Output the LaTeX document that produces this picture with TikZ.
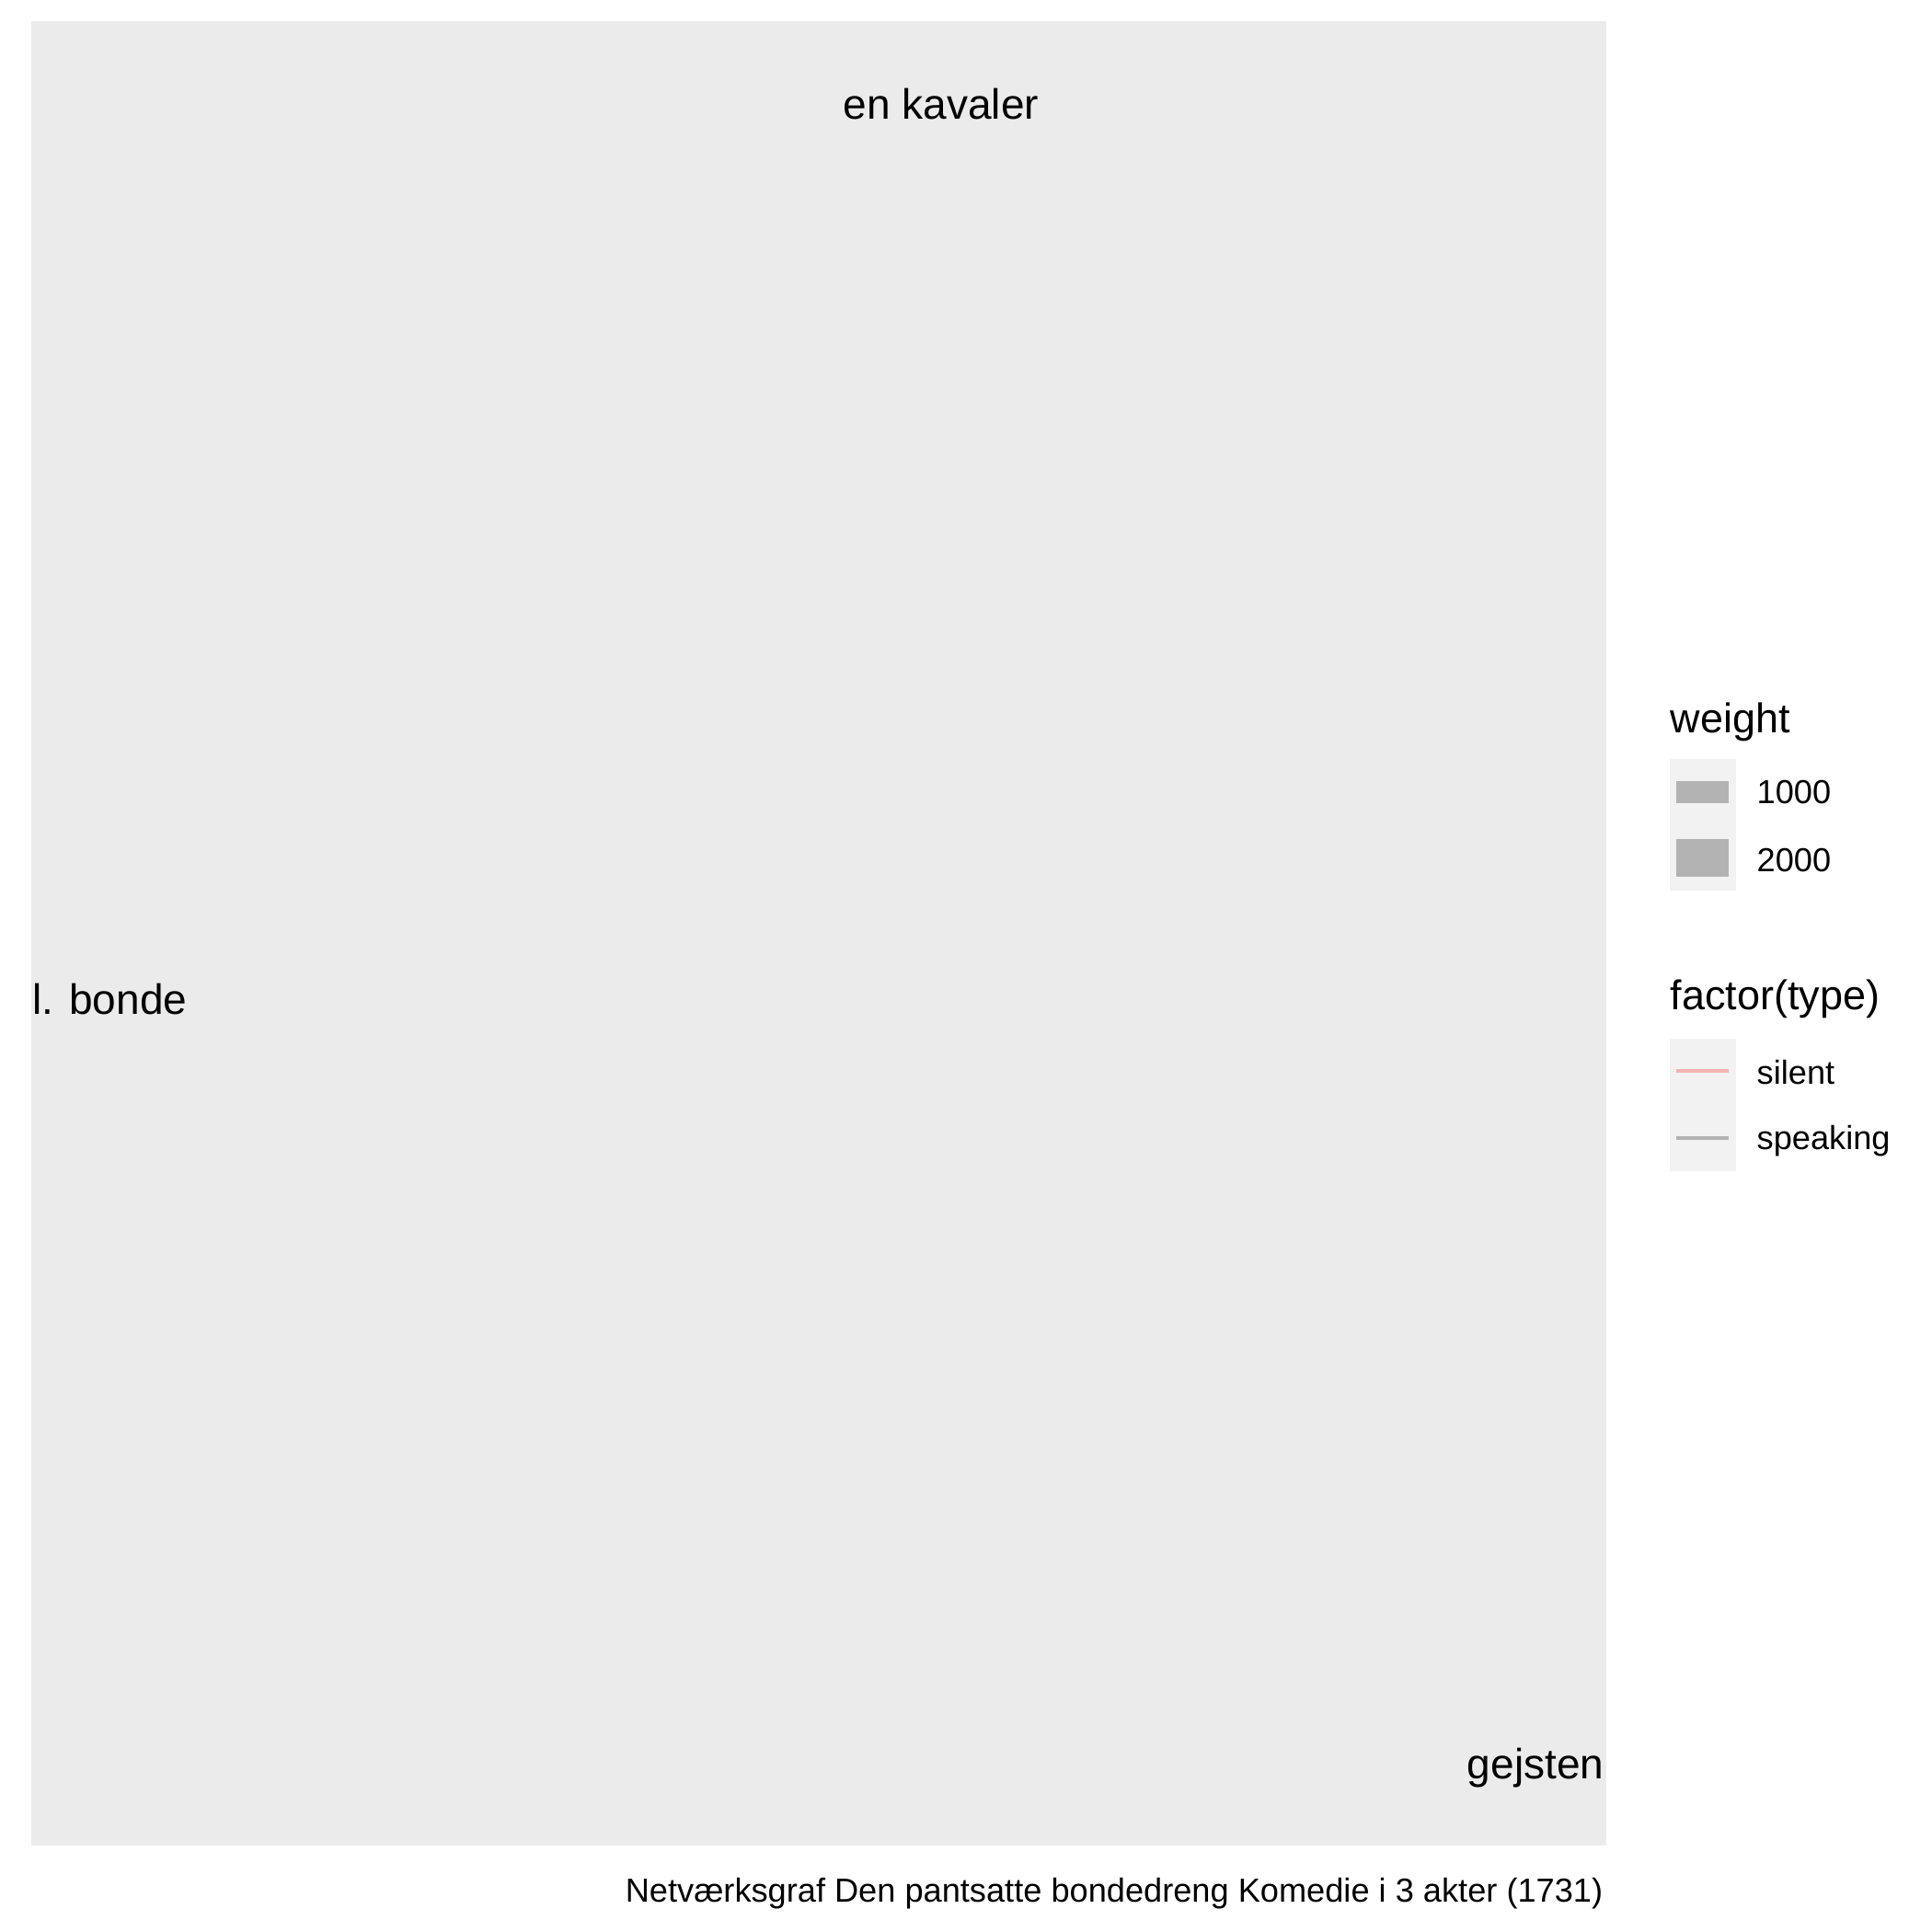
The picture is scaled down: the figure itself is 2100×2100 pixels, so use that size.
\documentclass[tikz,border=0pt]{standalone}
\usepackage{fontspec}
\setmainfont{Liberation Sans}
\usepackage{xcolor}
\definecolor{panelgrey}{HTML}{EBEBEB}
\definecolor{keygrey}{HTML}{F2F2F2}
\definecolor{edgegrey}{HTML}{B3B3B3}
\definecolor{silentpink}{RGB}{245,180,178}

\begin{document}
\begin{tikzpicture}[x=0.1mm,y=-0.1mm,
    actor/.style={inner sep=0pt,font=\fontsize{13.1}{15}\selectfont},
    legtitle/.style={inner sep=0pt,anchor=base west,font=\fontsize{12.8}{15}\selectfont},
    leglabel/.style={inner sep=0pt,anchor=base west,font=\fontsize{10.3}{12}\selectfont}]
    \useasboundingbox (0,0) rectangle (2100,2100);
    \fill[panelgrey] (34,23) rectangle (1746,2006);
    \begin{scope}
        \clip (34,23) rectangle (1746,2006);
        \node[actor,anchor=base] (kavaler) at (1023,130) {en kavaler};
        \node[actor,anchor=base east] (bonde) at (204,1102) {l. bonde};
        \node[actor,anchor=base east] (gejsten) at (1744,1933) {gejsten};
    \end{scope}
    % legend: weight
    \node[legtitle] (weighttitle) at (1815,796) {weight};
    \fill[keygrey] (1815,825) rectangle (1887,968);
    \fill[edgegrey] (1822,849) rectangle (1879,873);
    \fill[edgegrey] (1822,912) rectangle (1879,953);
    \node[leglabel] (w1000) at (1909,873) {1000};
    \node[leglabel] (w2000) at (1909,947) {2000};
    % legend: factor(type)
    \node[legtitle] (typetitle) at (1815,1097) {factor(type)};
    \fill[keygrey] (1815,1129) rectangle (1887,1273);
    \draw[silentpink,line width=4.7*0.1mm] (1822,1164) -- (1879,1164);
    \draw[edgegrey,line width=4.7*0.1mm] (1822,1237) -- (1879,1237);
    \node[leglabel] (silent) at (1909,1178) {silent};
    \node[leglabel] (speaking) at (1909,1249) {speaking};
    % caption
    \node[leglabel,anchor=base east] (caption) at (1743,2067) {Netværksgraf Den pantsatte bondedreng Komedie i 3 akter (1731)};
\end{tikzpicture}
\end{document}
